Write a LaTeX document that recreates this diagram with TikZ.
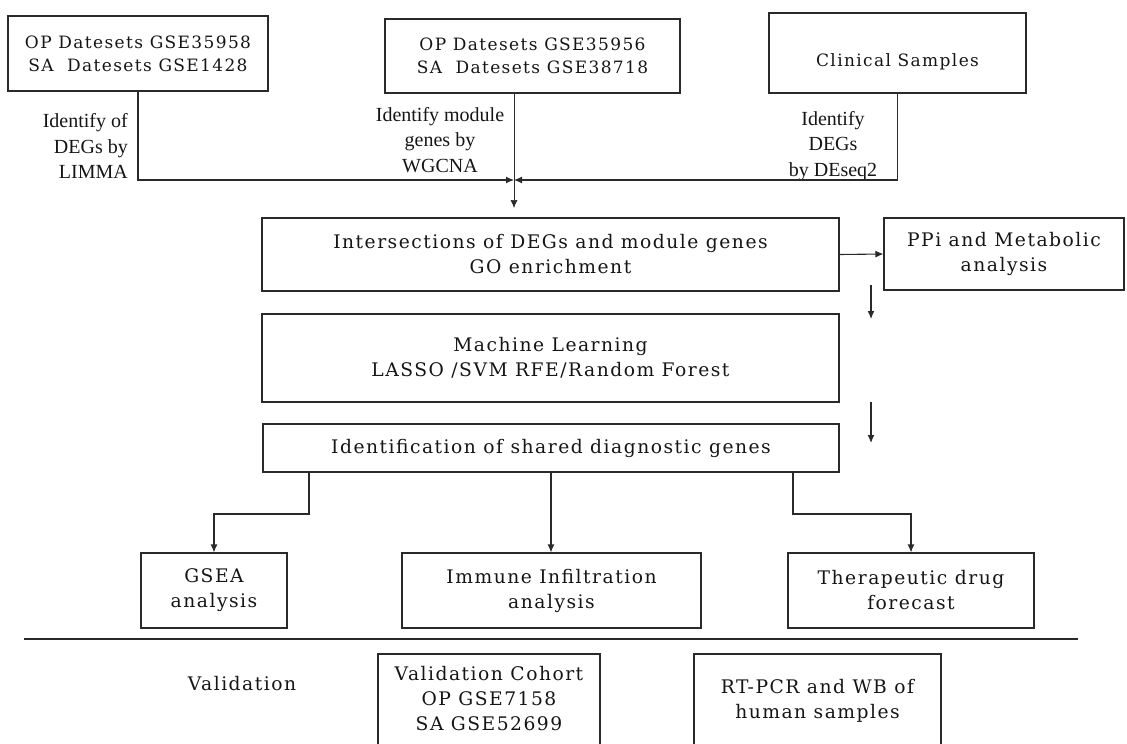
\documentclass[tikz,border=0pt]{standalone}
\usepackage{fontspec}
\setmainfont{DejaVu Serif}[LetterSpace=8]
\newfontfamily\labfont{Liberation Serif}
\usetikzlibrary{arrows.meta,calc}
\definecolor{ink}{HTML}{2A2A2A}
\definecolor{txt}{HTML}{151515}
\tikzset{
  box/.style={draw=ink,line width=1.1pt,inner sep=0pt,align=center,text=txt,
    font=\fontsize{18.7}{25}\selectfont},
  topbox/.style={box,font=\fontsize{17}{23}\selectfont},
  lab/.style={inner sep=0pt,text=txt,font=\labfont\fontsize{20}{25.5}\selectfont},
  conn/.style={draw=ink,line width=1.1pt},
  arr/.style={conn,-{Latex[length=8pt,width=7pt]}},
}
\newcommand{\boxat}[6][box]{% style, name, x1,y1,x2,y2 -> text follows
  \node[#1,minimum width={#5-#3},minimum height={#6-#4}] (#2) at ({(#3+#5)/2},{(#4+#6)/2})}
\begin{document}
\begin{tikzpicture}[x=1pt,y=-1pt]
\useasboundingbox (0,0) rectangle (1127,744);
\begin{scope}
\clip (0,0) rectangle (1127,744);
% top row
\boxat[topbox]{A}{8}{16}{268}{91} {OP Datesets GSE35958\\SA\ \ Datesets GSE1428};
\boxat[topbox]{B}{385}{19}{680}{93} {OP Datesets GSE35956\\SA\ \ Datesets GSE38718};
\boxat[topbox]{C}{769}{13}{1026}{93} {\raisebox{-13pt}[0pt][0pt]{Clinical Samples}};
% labels
\node[lab,align=right,anchor=east] (la) at (128,146) {Identify of\\DEGs by\\LIMMA};
\node[lab,align=center] (lb) at (440,140) {Identify module\\genes by\\WGCNA};
\node[lab,align=center] (lc) at (833,146) {Identify\\DEGs\\by DEseq2};
% middle
\boxat{D}{262}{218}{839}{291} {Intersections of DEGs and module genes\\GO enrichment};
\boxat{P}{884}{218}{1124}{290} {PPi and Metabolic\\analysis};
\boxat{E}{262}{314}{839}{402} {Machine Learning\\LASSO /SVM RFE/Random Forest};
\boxat{F}{263}{424}{839}{472} {Identification of shared diagnostic genes};
% outputs
\boxat{G}{141}{553}{287}{628} {GSEA\\analysis};
\boxat{I}{402}{553}{701}{628} {Immune Infiltration\\analysis};
\boxat{T}{788}{553}{1034}{628} {Therapeutic drug\\forecast};
% validation
\node[text=txt,inner sep=0pt,font=\fontsize{18.7}{25}\selectfont] (val) at (242,684) {Validation};
\boxat{V}{378}{654}{600}{760} {\raisebox{2.5pt}[0pt][0pt]{\begin{tabular}{@{}c@{}}Validation Cohort\\OP GSE7158\\SA GSE52699\end{tabular}}};
\boxat{R}{694}{654}{941}{760} {\raisebox{1.5pt}[0pt][0pt]{\begin{tabular}{@{}c@{}}RT-PCR and WB of\\human samples\end{tabular}}};
% separator
\coordinate (s1) at (24,639);
\coordinate (s2) at (1078,639);
\draw[conn] (s1) -- (s2);
% top connectors
\coordinate (J) at (514,180);
\coordinate (K) at (514,208);
\draw[arr] (A.south) |- (J);
\draw[arr] (C.south) |- (J);
\draw[arr,line width=0.7pt] (J |- B.south) -- (K);
% D -> PPi
\draw[arr] (D.east) -- (P.west);
% floating arrows
\coordinate (f1) at (871,285);
\coordinate (f2) at (871,319);
\coordinate (f3) at (871,402);
\coordinate (f4) at (871,443);
\draw[arr] (f1) -- (f2);
\draw[arr] (f3) -- (f4);
% F branches
\coordinate (bl) at (309,472);
\coordinate (br) at (793,472);
\draw[arr] (bl) -- (309,514) -| (G.north);
\draw[arr] (F.south) -- (F.south |- I.north);
\draw[arr] (br) -- (793,514) -| (T.north);
\end{scope}
\end{tikzpicture}
\end{document}
